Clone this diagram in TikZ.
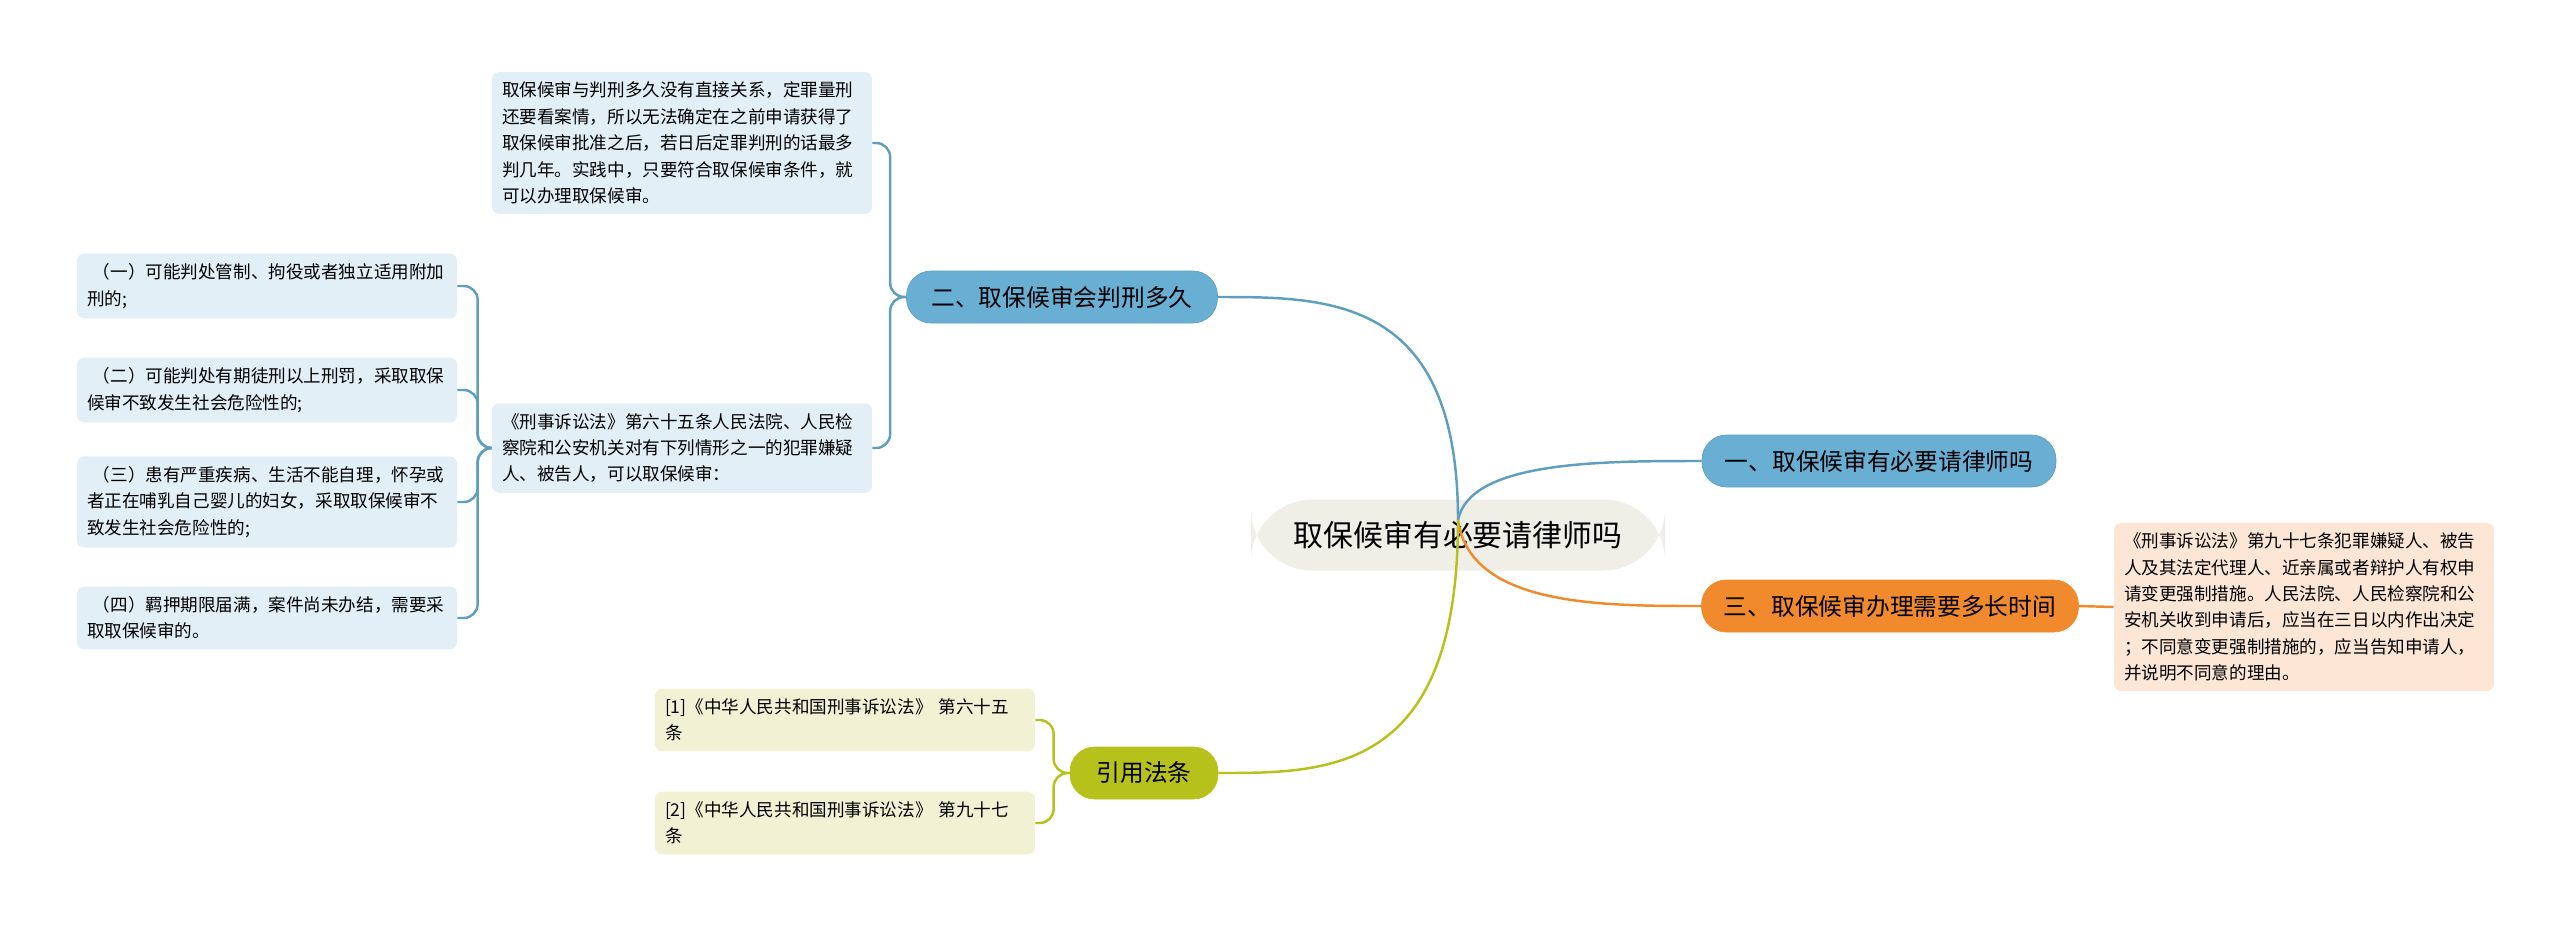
\documentclass[tikz,border=0pt]{standalone}
\usepackage{fontspec}
\setmainfont{Noto Sans CJK SC}
\usetikzlibrary{positioning}
\definecolor{bblue}{HTML}{69AFD3}
\definecolor{lblue}{HTML}{5E9FBF}
\definecolor{fblue}{HTML}{E2EFF7}
\definecolor{borange}{HTML}{F08A2C}
\definecolor{forange}{HTML}{FDE6D5}
\definecolor{bolive}{HTML}{B6C21B}
\definecolor{folive}{HTML}{F0F2D3}
\definecolor{froot}{HTML}{EFEFE7}
\tikzstyle{root} = [rectangle, fill=froot, rounded corners=35pt,
	minimum width=8.28cm, minimum height=1.42cm, font=\fontsize{17}{20}\selectfont]
\tikzstyle{branch} = [rectangle, rounded corners=14pt, minimum height=1.04cm,
	text centered, font=\fontsize{13.5}{16}\selectfont]
\tikzstyle{leaf} = [rectangle, rounded corners=4pt, text width=7.2cm, align=left,
	inner sep=0.2cm, font=\fontsize{10}{15}\selectfont]
\tikzstyle{line} = [draw, line width=1.4pt]

\begin{document}
\begin{tikzpicture}[x=0.02cm, y=-0.02cm]
	\useasboundingbox (0,0) rectangle (2560,931);

	% Place nodes
	\node [root] (root) at (1458,535) {取保候审有必要请律师吗};
	\node [branch, fill=bblue, draw=lblue, minimum width=6.22cm] (howlong) at (1062,297) {二、取保候审会判刑多久};
	\node [branch, fill=bblue, draw=lblue, minimum width=7.08cm] (lawyer) at (1879,461) {一、取保候审有必要请律师吗};
	\node [branch, fill=borange, draw=borange, minimum width=7.54cm] (time) at (1890,606) {三、取保候审办理需要多长时间};
	\node [branch, fill=bolive, draw=bolive, minimum width=2.96cm] (refs) at (1144,773) {引用法条};

	\node [leaf, fill=fblue] (relation) at (682,143) {取保候审与判刑多久没有直接关系，定罪量刑\\还要看案情，所以无法确定在之前申请获得了\\取保候审批准之后，若日后定罪判刑的话最多\\判几年。实践中，只要符合取保候审条件，就\\可以办理取保候审。};
	\node [leaf, fill=fblue] (article) at (682,448) {《刑事诉讼法》第六十五条人民法院、人民检\\察院和公安机关对有下列情形之一的犯罪嫌疑\\人、被告人，可以取保候审：};
	\node [leaf, fill=fblue] (caseA) at (267,286) {\ （一）可能判处管制、拘役或者独立适用附加\\刑的;};
	\node [leaf, fill=fblue] (caseB) at (267,390) {\ （二）可能判处有期徒刑以上刑罚，采取取保\\候审不致发生社会危险性的;};
	\node [leaf, fill=fblue] (caseC) at (267,502) {\ （三）患有严重疾病、生活不能自理，怀孕或\\者正在哺乳自己婴儿的妇女，采取取保候审不\\致发生社会危险性的;};
	\node [leaf, fill=fblue] (caseD) at (267,618) {\ （四）羁押期限届满，案件尚未办结，需要采\\取取保候审的。};
	\node [leaf, fill=forange] (change) at (2304,607) {《刑事诉讼法》第九十七条犯罪嫌疑人、被告\\人及其法定代理人、近亲属或者辩护人有权申\\请变更强制措施。人民法院、人民检察院和公\\安机关收到申请后，应当在三日以内作出决定\\；不同意变更强制措施的，应当告知申请人，\\并说明不同意的理由。};
	\node [leaf, fill=folive] (refA) at (845,720) {[1]《中华人民共和国刑事诉讼法》 第六十五\\条};
	\node [leaf, fill=folive] (refB) at (845,823) {[2]《中华人民共和国刑事诉讼法》 第九十七\\条};

	% Draw edges
	\path [line, draw=lblue] (root.center) ++(0,-15) .. controls (1458,297) and (1330,297) .. (howlong.east);
	\path [line, draw=lblue] (root.center) ++(0,-15) .. controls (1470,461) and (1600,461) .. (lawyer.west);
	\path [line, draw=borange] (root.center) ++(0,-15) .. controls (1470,606) and (1600,606) .. (time.west);
	\path [line, draw=bolive] (root.center) ++(0,-15) .. controls (1458,773) and (1330,773) .. (refs.east);
	\path [line, draw=borange] (time.east) -- (change.west);
	\foreach \leafname in {relation, article}
		\path [line, draw=lblue, rounded corners=8pt] (howlong.west) -- ++(-16,0) |- (\leafname.east);
	\foreach \leafname in {caseA, caseB, caseC, caseD}
		\path [line, draw=lblue, rounded corners=8pt] (article.west) -- ++(-14,0) |- (\leafname.east);
	\foreach \leafname in {refA, refB}
		\path [line, draw=bolive, rounded corners=8pt] (refs.west) -- ++(-16,0) |- (\leafname.east);
\end{tikzpicture}
\end{document}
